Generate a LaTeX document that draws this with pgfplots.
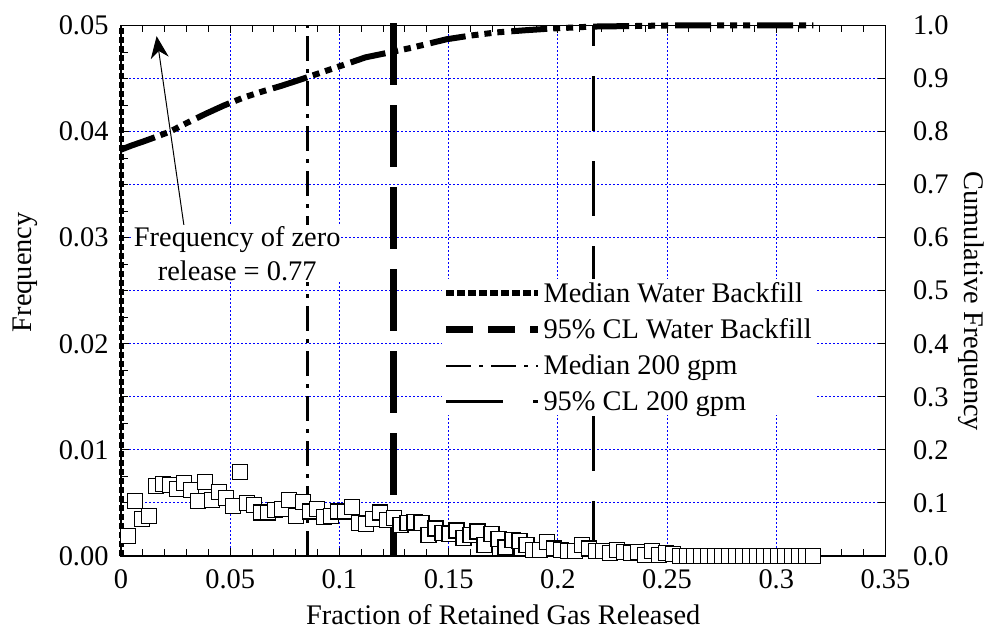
\documentclass[border=0pt]{standalone}
\usepackage{pgfplots}
\pgfplotsset{compat=1.18}
\usepackage{pgfplotstable}
\usepackage{fontspec}
\setmainfont{Liberation Serif}
\usetikzlibrary{arrows.meta}

\pgfplotstableread{
x y
0.0032 0.0019
0.0064 0.0052
0.0096 0.0035
0.0128 0.0038
0.0160 0.0066
0.0192 0.0068
0.0224 0.0067
0.0256 0.0063
0.0288 0.0069
0.0320 0.0062
0.0352 0.0052
0.0384 0.0070
0.0416 0.0053
0.0448 0.0060
0.0480 0.0055
0.0512 0.0047
0.0544 0.0079
0.0576 0.0050
0.0608 0.0048
0.0640 0.0041
0.0672 0.0041
0.0704 0.0043
0.0736 0.0044
0.0768 0.0053
0.0800 0.0038
0.0832 0.0051
0.0864 0.0042
0.0896 0.0044
0.0928 0.0037
0.0960 0.0038
0.0992 0.0042
0.1024 0.0042
0.1056 0.0046
0.1088 0.0031
0.1120 0.0030
0.1152 0.0035
0.1184 0.0041
0.1216 0.0034
0.1248 0.0036
0.1280 0.0029
0.1312 0.0031
0.1344 0.0032
0.1376 0.0031
0.1408 0.0020
0.1440 0.0026
0.1472 0.0022
0.1504 0.0021
0.1536 0.0024
0.1568 0.0017
0.1600 0.0020
0.1632 0.0023
0.1664 0.0010
0.1696 0.0021
0.1728 0.0016
0.1760 0.0008
0.1792 0.0015
0.1824 0.0014
0.1856 0.0010
0.1888 0.0006
0.1920 0.0006
0.1952 0.0013
0.1984 0.0007
0.2016 0.0006
0.2048 0.0005
0.2080 0.0005
0.2112 0.0010
0.2144 0.0007
0.2176 0.0005
0.2208 0.0005
0.2240 0.0003
0.2272 0.0006
0.2304 0.0004
0.2336 0.0003
0.2368 0.0004
0.2400 0.0001
0.2432 0.0005
0.2464 0.0001
0.2496 0.0003
0.2528 0.0002
0.2560 0.0000
0.2592 0.0000
0.2624 0.0000
0.2656 0.0000
0.2688 0.0000
0.2720 0.0000
0.2752 0.0000
0.2784 0.0000
0.2816 0.0000
0.2848 0.0000
0.2880 0.0000
0.2912 0.0000
0.2944 0.0000
0.2976 0.0000
0.3008 0.0000
0.3040 0.0000
0.3072 0.0000
0.3104 0.0000
0.3136 0.0000
0.3168 0.0000
}\hist

\pgfplotstableread{
x y
0      0.766
0.005  0.774
0.010  0.781
0.016  0.790
0.0224 0.800
0.030  0.816
0.039  0.834
0.047  0.849
0.056  0.864
0.065  0.876
0.074  0.887
0.085  0.902
0.100  0.923
0.112  0.940
0.125  0.951
0.133  0.958
0.149  0.974
0.160  0.981
0.172  0.987
0.185  0.991
0.196  0.994
0.216  0.998
0.235  0.999
0.250  1.000
0.317  1.000
}\cum

\begin{document}
\begin{tikzpicture}[font=\fontsize{28.5}{34}\selectfont]
\path[use as bounding box] (-121bp,-81bp) rectangle (869bp,556bp);
% right axis: grid and cumulative curve
\begin{axis}[
  at={(0,0)}, anchor=south west,
  scale only axis, width=764.5bp, height=530.5bp,
  xmin=0, xmax=0.35, ymin=0, ymax=1,
  scaled x ticks=false, scaled y ticks=false,
  xtick={0,0.05,0.1,0.15,0.2,0.25,0.3,0.35}, xticklabels={},
  ytick={0,0.1,0.2,0.3,0.4,0.5,0.6,0.7,0.8,0.9,1},
  yticklabels={0.0,0.1,0.2,0.3,0.4,0.5,0.6,0.7,0.8,0.9,1.0},
  ytick pos=right, yticklabel pos=right,
  yticklabel style={xshift=24bp},
  major tick length=8bp,
  tick style={black, line width=1bp},
  axis line style={black, line width=1.2bp},
  grid=major,
  major grid style={blue, line width=1.1bp, dash pattern=on 2bp off 2bp},
  ylabel={Cumulative Frequency},
  ylabel style={at={(axis description cs:1.112,0.48)}, anchor=center, rotate=180},
  clip=false,
]
\addplot[black, line width=6bp, line cap=butt,
  dash pattern=on 36bp off 6bp on 7bp off 6bp on 7bp off 6bp on 7bp off 7bp] table {\cum};
\end{axis}
% left axis: frequency
\begin{axis}[
  at={(0,0)}, anchor=south west,
  scale only axis, width=764.5bp, height=530.5bp,
  xmin=0, xmax=0.35, ymin=0, ymax=0.05,
  scaled x ticks=false, scaled y ticks=false,
  xtick={0,0.05,0.1,0.15,0.2,0.25,0.3,0.35},
  xticklabels={0,0.05,0.1,0.15,0.2,0.25,0.3,0.35},
  xticklabel style={yshift=-10bp},
  minor x tick num=4,
  ytick={0,0.01,0.02,0.03,0.04,0.05},
  yticklabels={0.00,0.01,0.02,0.03,0.04,0.05},
  yticklabel style={xshift=-9bp},
  minor y tick num=3,
  ytick pos=left,
  major tick length=8bp, minor tick length=7bp,
  tick style={black, line width=1bp},
  axis line style={black, line width=1.2bp},
  xlabel={Fraction of Retained Gas Released},
  xlabel style={at={(axis description cs:0.5,-0.11)}, anchor=center},
  ylabel={Frequency},
  ylabel style={at={(axis description cs:-0.1256,0.535)}, anchor=center},
  clip=false,
  legend style={at={(axis description cs:0.419,0.522)}, anchor=north west,
    draw=none, fill=white, inner sep=1bp, row sep=11bp,
    font=\fontsize{28.5}{34}\selectfont},
  legend cell align=left,
]
\addlegendimage{legend image code/.code={\draw[black, line width=6bp, line cap=butt, dash pattern=on 8bp off 3bp] (0bp,0bp) -- (92bp,0bp);}}
\addlegendentry{Median Water Backfill}
\addlegendimage{legend image code/.code={\draw[black, line width=7bp, line cap=butt, dash pattern=on 27bp off 15bp] (0bp,0bp) -- (92bp,0bp);}}
\addlegendentry{95\% CL Water Backfill}
\addlegendimage{legend image code/.code={\draw[black, line width=2.6bp, line cap=butt, dash pattern=on 25bp off 8bp on 4bp off 8bp] (0bp,0bp) -- (92bp,0bp);}}
\addlegendentry{Median 200 gpm}
\addlegendimage{legend image code/.code={\draw[black, line width=2.6bp, line cap=butt, dash pattern=on 57bp off 30bp] (0bp,0bp) -- (92bp,0bp);}}
\addlegendentry{95\% CL 200 gpm}
\addplot[black, line width=5bp, line cap=butt, dash pattern=on 6bp off 3bp, forget plot]
  coordinates {(0.0004,0) (0.0004,0.05)};
\addplot[black, line width=6.5bp, line cap=butt, dash pattern=on 62bp off 20bp, forget plot]
  coordinates {(0.1247,0.0502) (0.1247,0)};
\addplot[black, line width=2.6bp, line cap=butt, dash pattern=on 25bp off 8bp on 4bp off 8bp, forget plot]
  coordinates {(0.0855,0) (0.0855,0.05)};
\addplot[black, line width=2.6bp, line cap=butt, dash pattern=on 55bp off 30bp, forget plot]
  coordinates {(0.2164,0) (0.2164,0.05)};
\addplot[only marks, mark=square*, mark size=7.5bp,
  mark options={fill=white, draw=black, line width=1.2bp}, forget plot] table {\hist};
\draw[line width=1bp, -{Stealth[length=22bp, width=18bp, inset=7bp]}]
  (axis cs:0.0292,0.0306) -- (axis cs:0.0163,0.0490);
\node[fill=white, align=center, inner sep=1bp] at (axis cs:0.0532,0.0285)
  {Frequency of zero\\release = 0.77};
\end{axis}
\end{tikzpicture}
\end{document}
